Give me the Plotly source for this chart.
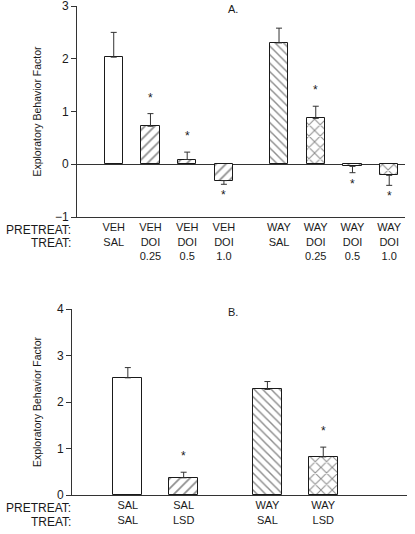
import plotly.graph_objects as go

# ---------------- Data ----------------
a_pretreat = ["VEH", "VEH", "VEH", "VEH", "WAY", "WAY", "WAY", "WAY"]
a_treat = ["SAL", "DOI", "DOI", "DOI", "SAL", "DOI", "DOI", "DOI"]
a_dose = ["", "0.25", "0.5", "1.0", "", "0.25", "0.5", "1.0"]
a_values = [2.03, 0.72, 0.09, -0.31, 2.30, 0.87, -0.04, -0.21]
a_errors = [0.47, 0.24, 0.14, 0.07, 0.28, 0.23, 0.12, 0.19]
a_signif = [False, True, True, True, False, True, True, True]
a_pattern = ["", "/", "/", "/", "\\", "x", "x", "x"]

b_pretreat = ["SAL", "SAL", "WAY", "WAY"]
b_treat = ["SAL", "LSD", "SAL", "LSD"]
b_values = [2.52, 0.37, 2.27, 0.82]
b_errors = [0.22, 0.12, 0.17, 0.21]
b_signif = [False, True, False, True]
b_pattern = ["", "/", "\\", "x"]

a_yticks = [-1, 0, 1, 2, 3]
b_yticks = [0, 1, 2, 3, 4]

# ---------------- Styling ----------------
FONT = "Liberation Sans, Arial, sans-serif"
INK = "#1a1a1a"
AX = "#333333"
W, H = 415, 534


def px_x(x):
    return x / W


def px_y(y):
    return 1 - y / H


def positions(n, group):
    return [i + (0.5 if i >= group else 0) for i in range(n)]


def pat_size(shape):
    return {"/": 7, "\\": 6, "x": 8}.get(shape, 6)


a_x = positions(len(a_values), 4)
b_x = positions(len(b_values), 2)

fig = go.Figure()


def add_bars(xs, vals, errs, pats, width, xa, ya):
    plus = [e if v >= 0 else 0 for v, e in zip(vals, errs)]
    minus = [0 if v >= 0 else e for v, e in zip(vals, errs)]
    fig.add_trace(go.Bar(
        x=xs, y=vals, width=width,
        marker=dict(
            color="white",
            line=dict(color=INK, width=1),
            pattern=dict(
                shape=pats,
                size=[pat_size(p) for p in pats],
                solidity=0.24,
                fgcolor=INK,
                bgcolor="white",
                fillmode="overlay",
            ),
        ),
        error_y=dict(type="data", symmetric=False, array=plus, arrayminus=minus,
                     color=AX, thickness=1, width=3),
        xaxis=xa, yaxis=ya, showlegend=False, hoverinfo="skip",
    ))


add_bars(a_x, a_values, a_errors, a_pattern, 0.5, "x", "y")
add_bars(b_x, b_values, b_errors, b_pattern, 0.52, "x2", "y2")

annotations = []


def add_stars(xs, vals, errs, sig, xref, yref):
    for x, v, e, s in zip(xs, vals, errs, sig):
        if not s:
            continue
        if v >= 0:
            y, shift = v + e, 16
        else:
            y, shift = v - e, -11
        annotations.append(dict(x=x, y=y, xref=xref, yref=yref, text="*",
                                showarrow=False, yshift=shift,
                                font=dict(size=12, color=INK, family=FONT)))


add_stars(a_x, a_values, a_errors, a_signif, "x", "y")
add_stars(b_x, b_values, b_errors, b_signif, "x2", "y2")

a_ticktext = [f"{p}<br>{t}" + (f"<br>{d}" if d else "") for p, t, d in zip(a_pretreat, a_treat, a_dose)]
b_ticktext = [f"{p}<br>{t}" for p, t in zip(b_pretreat, b_treat)]

# panel pixel boxes -> paper domains
a_dom_x = [px_x(77), px_x(405)]
a_dom_y = [px_y(217), px_y(6)]
b_dom_x = [px_x(72), px_x(407)]
b_dom_y = [px_y(495), px_y(309)]

tickfont = dict(size=11, color=INK, family=FONT)
rowfont = dict(size=12, color=INK, family=FONT)
titlefont = dict(size=10.5, color=INK, family=FONT)

# row labels
for label, ypix in [("PRETREAT:", 230), ("TREAT:", 243), ("PRETREAT:", 508), ("TREAT:", 522)]:
    annotations.append(dict(x=px_x(73), y=px_y(ypix), xref="paper", yref="paper",
                            xanchor="right", yanchor="middle", showarrow=False,
                            text=label, font=rowfont))
# panel letters
annotations.append(dict(x=px_x(226), y=px_y(9), xref="paper", yref="paper",
                        xanchor="left", yanchor="middle", showarrow=False,
                        text="A.", font=dict(size=11, color=INK, family=FONT)))
annotations.append(dict(x=px_x(226), y=px_y(312), xref="paper", yref="paper",
                        xanchor="left", yanchor="middle", showarrow=False,
                        text="B.", font=dict(size=11, color=INK, family=FONT)))

fig.update_layout(
    template="none",
    width=W, height=H,
    margin=dict(l=0, r=0, t=0, b=0, autoexpand=False),
    paper_bgcolor="white", plot_bgcolor="white",
    font=dict(family=FONT, color=INK, size=12),
    bargap=0,
    annotations=annotations,
    xaxis=dict(domain=a_dom_x, anchor="y", range=[-1, 7.93], automargin=False,
               tickmode="array", tickvals=a_x, ticktext=a_ticktext,
               ticks="", showline=True, linecolor=AX, linewidth=1,
               showgrid=False, zeroline=False, tickfont=tickfont,
               ticklabelstandoff=0, ticklabeloverflow="allow"),
    yaxis=dict(domain=a_dom_y, anchor="x", range=[-1, 3], automargin=False,
               tickmode="array", tickvals=a_yticks,
               ticks="outside", ticklen=5, tickcolor=AX, tickwidth=1,
               showline=True, linecolor=AX, linewidth=1,
               showgrid=False, zeroline=True, zerolinecolor=AX, zerolinewidth=1,
               tickfont=dict(size=12, color=INK, family=FONT),
               ticklabeloverflow="allow",
               title=dict(text="Exploratory Behavior Factor", standoff=11,
                          font=titlefont)),
    xaxis2=dict(domain=b_dom_x, anchor="y2", range=[-1, 5], automargin=False,
                tickmode="array", tickvals=b_x, ticktext=b_ticktext,
                ticks="", showline=True, linecolor=AX, linewidth=1,
                showgrid=False, zeroline=False, tickfont=tickfont,
                ticklabelstandoff=0, ticklabeloverflow="allow"),
    yaxis2=dict(domain=b_dom_y, anchor="x2", range=[0, 4], automargin=False,
                tickmode="array", tickvals=b_yticks,
                ticks="outside", ticklen=5, tickcolor=AX, tickwidth=1,
                showline=True, linecolor=AX, linewidth=1,
                showgrid=False, zeroline=False,
                tickfont=dict(size=12, color=INK, family=FONT),
                ticklabeloverflow="allow",
                title=dict(text="Exploratory Behavior Factor", standoff=13,
                           font=titlefont)),
)

fig.write_html(
    "out.html",
    config={"displayModeBar": False},
    post_script="document.body.style.margin='0';document.body.style.overflow='hidden';",
)
